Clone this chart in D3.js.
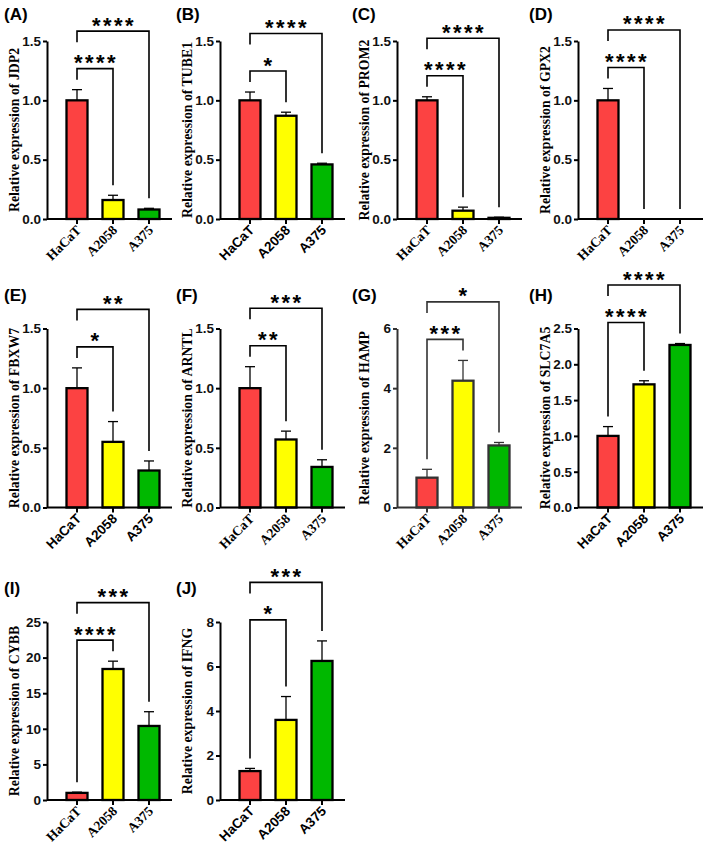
<!DOCTYPE html>
<html>
<head>
<meta charset="utf-8">
<script src="https://cdn.jsdelivr.net/npm/d3@7"></script>
<style>
body { margin: 0; background: #fff; }
</style>
</head>
<body>
<svg id="figura" width="709" height="854"></svg>
<script>
// datos
const lineas = ["HaCaT", "A2058", "A375"];
const etiquetas = ["(A)", "(B)", "(C)", "(D)", "(E)", "(F)", "(G)", "(H)", "(I)", "(J)"];
const genes = ["JDP2", "TUBE1", "PROM2", "GPX2", "FBXW7", "ARNTL", "HAMP", "SLC7A5", "CYBB", "IFNG"];
const medias = [
    [1, 0.16, 0.08],
    [1, 0.87, 0.46],
    [1, 0.07, 0.01],
    [1, 0, 0],
    [1, 0.55, 0.31],
    [1, 0.57, 0.34],
    [1, 4.25, 2.08],
    [1, 1.72, 2.27],
    [1, 18.4, 10.4],
    [1.3, 3.6, 6.25]
];
const errores = [
    [0.09, 0.04, 0.01],
    [0.07, 0.03, 0.01],
    [0.03, 0.03, 0.005],
    [0.10, 0, 0],
    [0.17, 0.17, 0.08],
    [0.18, 0.07, 0.06],
    [0.28, 0.68, 0.10],
    [0.13, 0.05, 0.02],
    [0.1, 1.1, 2.0],
    [0.12, 1.05, 0.9]
];
const maximos = [1.5, 1.5, 1.5, 1.5, 1.5, 1.5, 6, 2.5, 25, 8];
const pasos = [0.5, 0.5, 0.5, 0.5, 0.5, 0.5, 2, 0.5, 5, 2];
const sigA2058 = ["****", "*", "****", "****", "*", "**", "***", "****", "****", "*"];
const sigA375 = ["****", "****", "****", "****", "**", "***", "*", "****", "***", "***"];
const letraSerif = [true, false, true, true, false, true, true, false, true, false];

const colores = ["#fc4242", "#ffff00", "#00b800"];

// posiciones de la rejilla (4 columnas, 3 filas)
const ejeX = [47, 220, 397, 578];
const filas = [
    { arriba: 41, abajo: 219, rotulo: 20 },
    { arriba: 328.5, abajo: 507.5, rotulo: 301 },
    { arriba: 622, abajo: 800, rotulo: 594 }
];
const rotuloX = [4, 176, 352, 529];
const anchoEje = 125;
const anchoBarra = 21;

const sans = "Liberation Sans, Arial, sans-serif";
const serif = "Liberation Serif, Times New Roman, serif";

const $svg = d3.select("#figura");

const dibujarPanel = (i) => {
    const col = i % 4, fila = filas[Math.floor(i / 4)];
    const x0 = ejeX[col];
    const y = d3.scaleLinear().domain([0, maximos[i]]).range([fila.abajo, fila.arriba]);
    const x = d3.scalePoint().domain(lineas).range([x0 + 30, x0 + 102]);
    const trazo = i === 6 ? "#333" : "#000";

    const g = $svg.append("g");

    // rotulo del panel
    g.append("text")
        .attr("x", rotuloX[col])
        .attr("y", fila.rotulo)
        .attr("font-family", sans)
        .attr("font-weight", "bold")
        .attr("font-size", 17)
        .text(etiquetas[i]);

    // barras
    lineas.forEach((l, k) => {
        const v = medias[i][k];
        if (v <= 0) return;
        g.append("rect")
            .attr("x", x(l) - anchoBarra / 2)
            .attr("y", y(v))
            .attr("width", anchoBarra)
            .attr("height", y(0) - y(v))
            .attr("fill", colores[k])
            .attr("stroke", trazo)
            .attr("stroke-width", 2.3);
        const e = errores[i][k];
        if (e > 0) {
            g.append("line")
                .attr("x1", x(l)).attr("x2", x(l))
                .attr("y1", y(v)).attr("y2", y(v + e))
                .attr("stroke", trazo).attr("stroke-width", 1.3);
            g.append("line")
                .attr("x1", x(l) - 5).attr("x2", x(l) + 5)
                .attr("y1", y(v + e)).attr("y2", y(v + e))
                .attr("stroke", trazo).attr("stroke-width", 1.3);
        }
    });

    // eje y
    const ticks = d3.range(0, maximos[i] + 1e-9, pasos[i]);
    const ejeY = g.append("g")
        .attr("transform", `translate(${x0},0)`)
        .call(d3.axisLeft(y)
            .tickValues(ticks)
            .tickSize(4)
            .tickSizeOuter(0)
            .tickPadding(2)
            .tickFormat(d3.format(pasos[i] < 1 ? ".1f" : "d")));
    ejeY.select(".domain").attr("stroke", trazo).attr("stroke-width", 2);
    ejeY.selectAll(".tick line").attr("stroke", trazo).attr("stroke-width", 2);
    ejeY.selectAll(".tick text")
        .attr("fill", "#111")
        .attr("font-family", sans)
        .attr("font-weight", "bold")
        .attr("font-size", 13.5);

    // eje x
    g.append("line")
        .attr("x1", x0).attr("x2", x0 + anchoEje)
        .attr("y1", y(0)).attr("y2", y(0))
        .attr("stroke", trazo).attr("stroke-width", 2);
    lineas.forEach(l => {
        g.append("line")
            .attr("x1", x(l)).attr("x2", x(l))
            .attr("y1", y(0)).attr("y2", y(0) + 5)
            .attr("stroke", trazo).attr("stroke-width", 2);
        g.append("text")
            .attr("transform", `translate(${x(l) + 5},${y(0) + 12}) rotate(-45)`)
            .attr("text-anchor", "end")
            .attr("font-family", letraSerif[i] ? serif : sans)
            .attr("font-weight", "bold")
            .attr("font-size", 13.5)
            .text(l);
    });

    // titulo del eje y
    g.append("text")
        .attr("transform", `translate(${x0 - 28},${(fila.arriba + fila.abajo) / 2}) rotate(-90)`)
        .attr("text-anchor", "middle")
        .attr("font-family", serif)
        .attr("font-weight", "bold")
        .attr("font-size", 13.8)
        .text("Relative expression of " + genes[i]);

    // corchetes de significancia
    const topes = lineas.map((l, k) => y(medias[i][k] + errores[i][k]));
    const interior = d3.min(topes) - 21;
    const exterior = interior - 37.5;
    const corchete = (yb, xa, ya, xb, yb2, texto) => {
        g.append("path")
            .attr("d", `M${xa},${ya}V${yb}H${xb}V${yb2}`)
            .attr("fill", "none")
            .attr("stroke", trazo)
            .attr("stroke-width", 1.6);
        g.append("text")
            .attr("x", (xa + xb) / 2 + 1)
            .attr("y", yb + 1.5)
            .attr("text-anchor", "middle")
            .attr("font-family", sans)
            .attr("font-weight", "bold")
            .attr("font-size", 22)
            .attr("letter-spacing", 2.5)
            .text(texto);
    };
    corchete(interior, x(lineas[0]), topes[0] - 10, x(lineas[1]), topes[1] - 10, sigA2058[i]);
    corchete(exterior, x(lineas[0]), exterior + 11, x(lineas[2]), topes[2] - 10, sigA375[i]);
};

genes.forEach((_, i) => dibujarPanel(i));
</script>
</body>
</html>
